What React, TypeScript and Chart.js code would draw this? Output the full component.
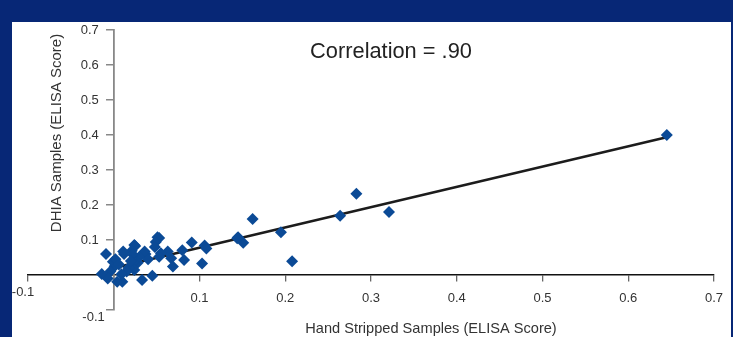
import React, { useEffect, useRef } from "react";
import { Chart, registerables } from "chart.js";

Chart.register(...registerables);

// Sample scores (ELISA): hand stripped (x) vs DHIA (y)
const handStripped: number[] = [
  0.645, 0.321, 0.283, 0.264, 0.208, 0.195, 0.162, 0.151, 0.145, 0.144,
  0.106, 0.108, 0.103, 0.091, 0.080, 0.082, 0.067, 0.069, 0.063, 0.055,
  0.053, 0.053, 0.051, 0.049, 0.048, 0.045, 0.037, 0.036, 0.033, 0.030,
  0.028, 0.025, 0.024, 0.023, 0.021, 0.022, 0.024, 0.017, 0.015, 0.012,
  0.011, 0.010, 0.004, 0.001, -0.001, 0.002, -0.004, -0.007, -0.014, -0.009,
  0.006, 0.009, 0.020, 0.040,
];
const dhia: number[] = [
  0.400, 0.180, 0.232, 0.169, 0.039, 0.122, 0.160, 0.092, 0.108, 0.105,
  0.084, 0.076, 0.033, 0.093, 0.071, 0.043, 0.048, 0.024, 0.067, 0.062,
  0.052, 0.106, 0.108, 0.094, 0.080, -0.002, 0.060, 0.067, -0.014, 0.052,
  0.035, 0.083, 0.086, 0.038, 0.069, 0.059, 0.014, 0.020, 0.010, 0.060,
  0.067, -0.019, -0.019, 0.025, 0.038, 0.045, 0.010, -0.010, 0.003, 0.060,
  0.030, 0.002, 0.040, 0.045,
];
// Regression line end points
const fitX: number[] = [-0.005, 0.646];
const fitY: number[] = [0.017, 0.394];

const xTicks: number[] = [-0.1, 0, 0.1, 0.2, 0.3, 0.4, 0.5, 0.6, 0.7];
const yTicks: number[] = [-0.1, 0, 0.1, 0.2, 0.3, 0.4, 0.5, 0.6, 0.7];

const annotation = "Correlation = .90";
const xTitle = "Hand Stripped Samples (ELISA Score)";
const yTitle = "DHIA Samples (ELISA Score)";

const FONT = "'Liberation Sans', Arial, sans-serif";

const fmt = (v: number) => {
  const r = Math.round(v * 10) / 10;
  if (r === 0 || r < 0) return "";
  return r.toFixed(1);
};

const decorPlugin = {
  id: "decor",
  beforeDraw(chart: any) {
    const { ctx, width, height } = chart;
    ctx.save();
    ctx.fillStyle = "#072776";
    ctx.fillRect(0, 0, width, height);
    ctx.fillStyle = "#ffffff";
    ctx.fillRect(12, 22, 719, height - 22);
    ctx.restore();
  },
  afterDraw(chart: any) {
    const { ctx } = chart;
    const xs = chart.scales.x;
    const ys = chart.scales.y;
    ctx.save();
    ctx.fillStyle = "#222222";
    ctx.font = `21.8px ${FONT}`;
    ctx.textAlign = "center";
    ctx.textBaseline = "middle";
    ctx.fillText(annotation, 391, 52);

    ctx.font = `14.6px ${FONT}`;
    ctx.fillStyle = "#333333";
    ctx.fillText(xTitle, 431, 329);
    ctx.save();
    ctx.translate(57, 133);
    ctx.rotate(-Math.PI / 2);
    ctx.font = `15px ${FONT}`;
    ctx.fillText(yTitle, 0, 0);
    ctx.restore();

    // y tick labels, left of the axis drawn at x = 0
    ctx.font = `13px ${FONT}`;
    ctx.fillStyle = "#333333";
    ctx.textAlign = "right";
    const axisX = xs.getPixelForValue(0);
    yTicks.forEach((v) => {
      const t = fmt(v);
      if (t) ctx.fillText(t, axisX - 15, ys.getPixelForValue(v));
    });

    // the -0.1 tick labels sit slightly off their ticks, as in the source
    ctx.textAlign = "center";
    ctx.fillText("-0.1", xs.getPixelForValue(xTicks[0]) - 5, 292);
    ctx.textAlign = "right";
    ctx.fillText("-0.1", axisX - 9, ys.getPixelForValue(yTicks[0]) + 7);
    ctx.restore();
  },
};

export default function App() {
  const ref = useRef<HTMLCanvasElement>(null);

  useEffect(() => {
    if (!ref.current) return;
    const chart = new Chart(ref.current, {
      type: "scatter",
      data: {
        datasets: [
          {
            type: "scatter",
            data: handStripped.map((x, i) => ({ x, y: dhia[i] })),
            pointStyle: "rectRot",
            pointRadius: 6,
            pointHoverRadius: 6,
            backgroundColor: "#0b4a96",
            borderWidth: 0,
            order: 1,
          },
          {
            type: "line",
            data: fitX.map((x, i) => ({ x, y: fitY[i] })),
            borderColor: "#1c1c1c",
            borderWidth: 2.6,
            pointRadius: 0,
            fill: false,
            order: 2,
          } as any,
        ],
      },
      options: {
        animation: false,
        responsive: false,
        events: [],
        layout: { padding: { left: 28, right: 16, top: 30, bottom: 27 } },
        plugins: { legend: { display: false }, tooltip: { enabled: false } },
        scales: {
          x: {
            type: "linear",
            position: { y: 0 } as any,
            min: -0.1,
            max: 0.7,
            afterBuildTicks: (s: any) => {
              s.ticks = xTicks.map((v) => ({ value: v }));
            },
            grid: {
              display: true,
              drawOnChartArea: false,
              drawTicks: true,
              tickLength: 6,
              color: "#666666",
              lineWidth: 1.3,
            },
            border: { display: true, color: "#111111", width: 1.5 },
            ticks: {
              callback: (v: any) => fmt(Number(v)),
              color: "#333333",
              font: { family: FONT, size: 13 },
              padding: 10,
              maxRotation: 0,
              autoSkip: false,
            },
          },
          y: {
            type: "linear",
            position: { x: 0 } as any,
            min: -0.1,
            max: 0.7,
            afterBuildTicks: (s: any) => {
              s.ticks = yTicks.map((v) => ({ value: v }));
            },
            grid: {
              display: true,
              drawOnChartArea: false,
              drawTicks: true,
              tickLength: 7,
              color: "#888888",
              lineWidth: 1.5,
            },
            border: { display: true, color: "#888888", width: 1.8 },
            ticks: { display: false },
          },
        },
      },
      plugins: [decorPlugin],
    });
    return () => chart.destroy();
  }, []);

  return (
    <div style={{ position: "fixed", left: 0, top: 0, width: 733, height: 337 }}>
      <canvas ref={ref} width={733} height={337} style={{ display: "block" }} />
    </div>
  );
}
